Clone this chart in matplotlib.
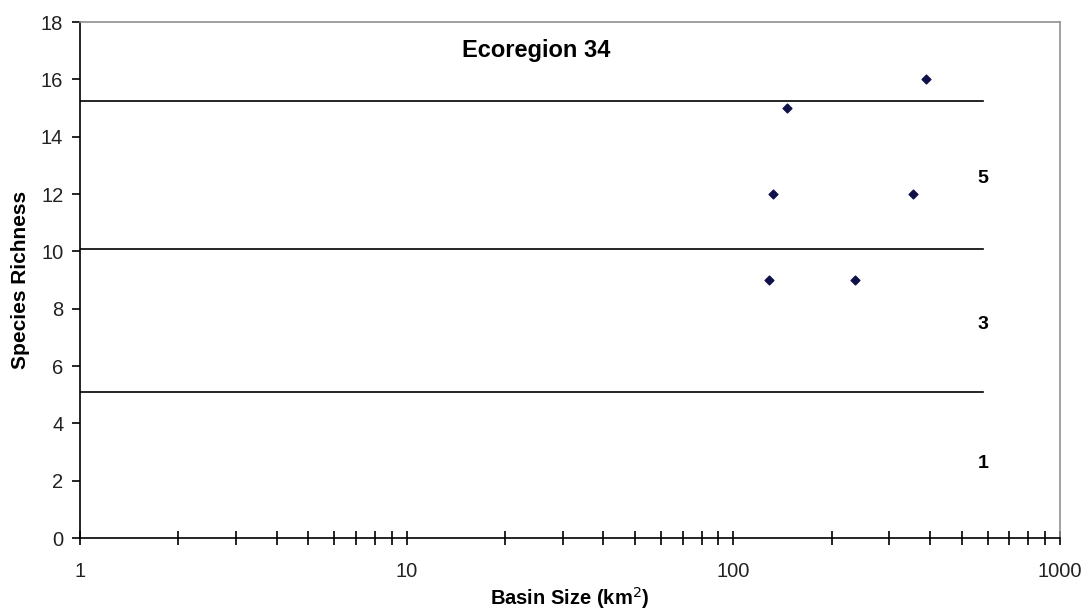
import matplotlib
matplotlib.use("Agg")
import matplotlib.pyplot as plt
from matplotlib.ticker import LogLocator, NullFormatter

plt.rcParams['font.family'] = ['Liberation Sans', 'DejaVu Sans']

# Data
basin_size = [389, 146, 132, 355, 129, 236]
richness = [16, 15, 12, 12, 9, 9]

# Score boundary lines
boundaries = [15.25, 10.07, 5.08]
line_end_x = 580
score_labels = ["5", "3", "1"]
score_label_y = [12.55, 7.45, 2.6]
title_text = "Ecoregion 34"
title_pos = (25, 17.0)

x_ticks = [1, 10, 100, 1000]
x_tick_labels = ["1", "10", "100", "1000"]
y_ticks = list(range(0, 19, 2))

fig = plt.figure(figsize=(10.87, 6.16), dpi=100)
ax = fig.add_axes([80/1087, 78/616, 980/1087, 516/616])

ax.set_xscale('log')
ax.set_xlim(1, 1000)
ax.set_ylim(0, 18)

for yb in boundaries:
    ax.plot([1, line_end_x], [yb, yb], color='black', lw=1.2, zorder=2)

ax.scatter(basin_size, richness, marker='D', s=20, color='#10104a', zorder=3)

for lab, yl in zip(score_labels, score_label_y):
    ax.text(line_end_x, yl, lab, ha='center', va='center', fontsize=14, fontweight='bold')

ax.text(title_pos[0], title_pos[1], title_text, ha='center', va='center',
        fontsize=17, fontweight='bold')

ax.set_xticks(x_ticks)
ax.set_xticklabels(x_tick_labels)
ax.xaxis.set_minor_locator(LogLocator(base=10, subs=range(2, 10)))
ax.xaxis.set_minor_formatter(NullFormatter())
ax.tick_params(axis='x', which='both', direction='inout', length=10, width=1.2,
               labelsize=14.5, pad=12, colors='black', labelcolor='#222222')
ax.set_yticks(y_ticks)
ax.tick_params(axis='y', direction='out', length=6, width=1.2, labelsize=14.5,
               pad=6, labelcolor='#222222')

for s in ['left', 'bottom']:
    ax.spines[s].set_color('black')
    ax.spines[s].set_linewidth(1.2)
for s in ['top', 'right']:
    ax.spines[s].set_color('#909090')
    ax.spines[s].set_linewidth(1.2)

ax.set_xlabel("Basin Size (km$^2$)", fontsize=14.5, fontweight='bold', labelpad=3)
ax.set_ylabel("Species Richness", fontsize=15, fontweight='bold', labelpad=8)

fig.savefig("out.png", dpi=100)
